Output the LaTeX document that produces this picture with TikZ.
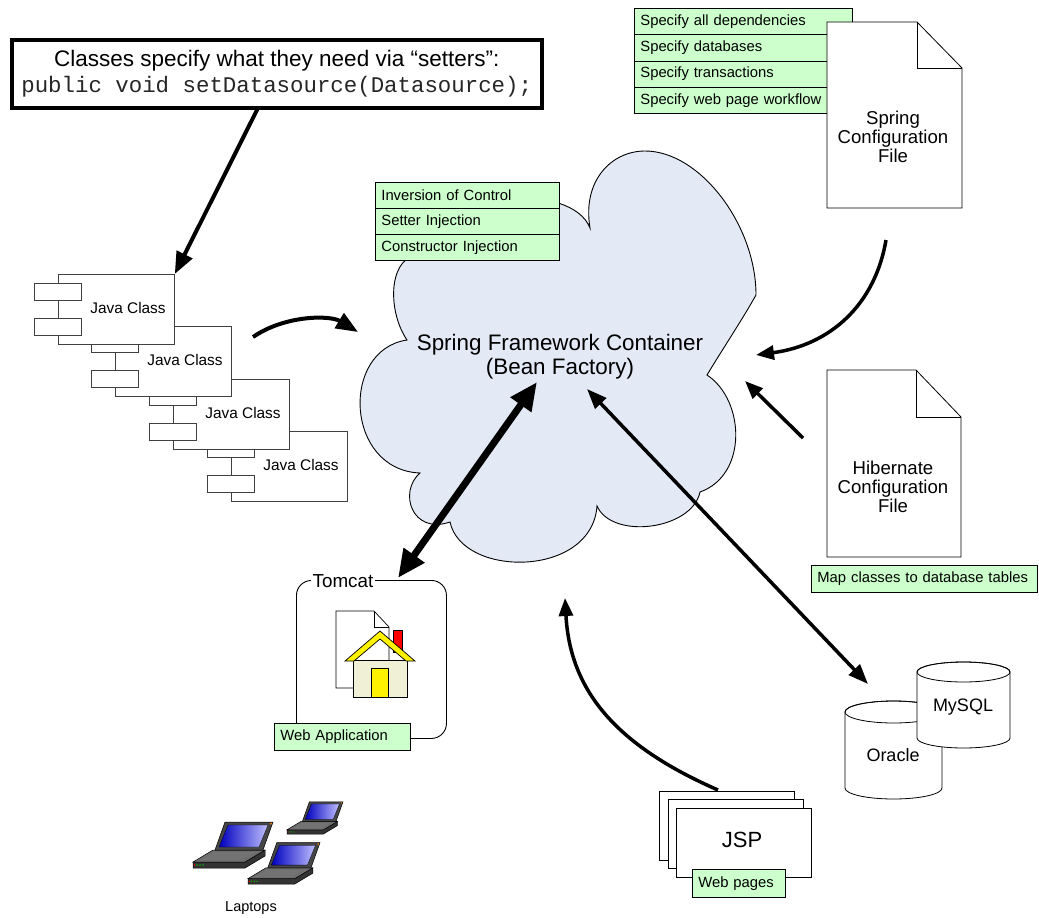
\documentclass[tikz,border=0pt]{standalone}
\usepackage{fontspec}
\setmainfont{Liberation Sans}
\setmonofont{Liberation Mono}
\usetikzlibrary{arrows.meta,calc}

\definecolor{notegreen}{RGB}{204,255,204}
\definecolor{cloudblue}{RGB}{227,234,246}
\definecolor{housewall}{RGB}{240,240,214}
\definecolor{lidgray}{RGB}{70,70,70}
\definecolor{basegray}{RGB}{110,110,110}

\newcommand{\fsz}[1]{\fontsize{#1}{1.2\dimexpr#1pt\relax}\selectfont}

\tikzset{
  note/.style={draw=black, line width=0.8, fill=notegreen, anchor=north west,
    minimum height=26.25, text width=#1, align=left, inner xsep=6, inner ysep=0,
    font=\fsz{14.8}},
  classbox/.style={draw=black!75, line width=0.8, fill=white, anchor=north west,
    minimum width=116, minimum height=70, inner sep=0},
  portbox/.style={draw=black!75, line width=0.8, fill=white, anchor=north west,
    minimum width=47, minimum height=17, inner sep=0},
  pagebox/.style={draw=black, line width=0.8, fill=white, anchor=north west,
    minimum width=135, minimum height=69, inner sep=0},
  bigarrow/.style={line width=4, -{Triangle[length=22,width=17]}},
  midarrow/.style={line width=3.5, -{Triangle[length=18,width=14]}},
  twoway/.style={line width=3.5, {Triangle[length=20,width=15]}-{Triangle[length=20,width=15]}},
  heavytwoway/.style={line width=7, {Triangle[length=28,width=24]}-{Triangle[length=28,width=24]}},
  laptop/.pic={
    % base: front face, side face, top surface
    \filldraw[fill=black!80, draw=black, line width=0.5] (0,0) -- (52,0) -- (72,-12) -- (72,-18) -- (52,-6) -- (0,-6) -- cycle;
    \filldraw[fill=basegray, draw=black, line width=0.5] (0,-6) -- (52,-6) -- (72,-18) -- (20,-18) -- cycle;
    \fill[black!55] (8,-8) -- (48,-8) -- (62,-16) -- (22,-16) -- cycle;
    \fill[green!70!black] (4,-3) circle[radius=0.9] (7,-3) circle[radius=0.9] (10,-3) circle[radius=0.9];
    \fill[red] (1.5,-3) circle[radius=0.8];
    % lid and screen
    \filldraw[fill=lidgray, draw=black, line width=0.5] (22,-18) -- (70,-18) -- (80,-46) -- (32,-46) -- cycle;
    \shade[left color=blue!75!black, right color=blue!25, draw=black, line width=0.3]
      (26,-21) -- (66,-21) -- (75,-43) -- (35,-43) -- cycle;
    \fill[orange] (78,-44.5) circle[radius=1];
  }
}

\begin{document}
\begin{tikzpicture}[x=1pt,y=-1pt]
\useasboundingbox[fill=white] (0,0) rectangle (1039,918);

% ---------------- container cloud ----------------
\path[draw=black, line width=0.9, fill=cloudblue]
  (590,228) .. controls (582,180) and (612,151) .. (645,151)
  .. controls (700,151) and (756,225) .. (756,295)
  .. controls (742,320) and (722,350) .. (707,375)
  .. controls (745,400) and (748,475) .. (700,492)
  .. controls (692,530) and (612,540) .. (597,506)
  .. controls (592,578) and (462,578) .. (450,522)
  .. controls (412,535) and (398,492) .. (420,473)
  .. controls (345,470) and (340,350) .. (407,340)
  .. controls (388,312) and (388,262) .. (415,255)
  .. controls (445,188) and (572,182) .. (590,228) -- cycle;
\node[align=center, font=\fsz{22.4}] (container) at (560,357)
  {Spring Framework Container\\[-3pt](Bean Factory)};

% concepts note on the container
\node[note=172] (ioc) at (375,182) {Inversion of Control};
\node[note=172] (setinj) at (375,208) {Setter Injection};
\node[note=172] (ctorinj) at (375,234) {Constructor Injection};

% ---------------- setter explanation ----------------
\node[draw=black, line width=3.5, anchor=north west, minimum width=530, minimum height=68,
      align=center, inner sep=0, font=\fsz{22.5}] (setters) at (10,38)
  {Classes specify what they need via “setters”:\\[-0.5pt]
   {\fontsize{22.4}{26}\selectfont\ttfamily\color{black!85}public void setDatasource(Datasource);}};

% ---------------- java classes ----------------
\foreach \i/\x/\y in {4/231/431, 3/173/379, 2/115/326, 1/58/274}{
  \node[classbox] (jc\i) at (\x,\y) {};
  \node[portbox] (jc\i a) at (\x-24,\y+9) {};
  \node[portbox] (jc\i b) at (\x-24,\y+44) {};
  \node[font=\fsz{15.4}] (jc\i t) at (\x+70,\y+34) {Java Class};
}

% ---------------- spring configuration file ----------------
\node[note=206] (dep) at (634,8) {Specify all dependencies};
\node[note=206] (dbs) at (634,34.25) {Specify databases};
\node[note=206] (trx) at (634,60.5) {Specify transactions};
\node[note=206] (flow) at (634,86.75) {Specify web page workflow};
\filldraw[fill=white, draw=black, line width=0.8]
  (827,22) -- (917,22) -- (962,68) -- (962,208) -- (827,208) -- cycle;
\draw[line width=0.8] (917,22) -- (917,68) -- (962,68);
\node[align=center, font=\fsz{18.6}, inner sep=0] (springcfg) at (893,137)
  {Spring\\[-3pt]Configuration\\[-3pt]File};

% ---------------- hibernate configuration file ----------------
\filldraw[fill=white, draw=black, line width=0.8]
  (827,370) -- (916,370) -- (961,417) -- (961,557) -- (827,557) -- cycle;
\draw[line width=0.8] (916,370) -- (916,417) -- (961,417);
\node[align=center, font=\fsz{18.6}, inner sep=0] (hibcfg) at (893,487)
  {Hibernate\\[-3pt]Configuration\\[-3pt]File};
\node[note=214, minimum height=27] (mapping) at (811,565) {Map classes to database tables};

% ---------------- databases ----------------
\filldraw[fill=white, draw=black, line width=0.8]
  (845,712) -- (845,788) arc[start angle=180, end angle=0, x radius=48.5, y radius=11]
  -- (942,712) arc[start angle=0, end angle=-180, x radius=48.5, y radius=11] -- cycle;
\draw[line width=0.8] (893.5,712) ellipse[x radius=48.5, y radius=11];
\node[font=\fsz{18}] (oracle) at (893,755) {Oracle};
\filldraw[fill=white, draw=black, line width=0.8]
  (917,672) -- (917,738) arc[start angle=180, end angle=0, x radius=46.5, y radius=10]
  -- (1010,672) arc[start angle=0, end angle=-180, x radius=46.5, y radius=10] -- cycle;
\draw[line width=0.8] (963.5,672) ellipse[x radius=46.5, y radius=10];
\node[font=\fsz{18}] (mysql) at (963,707) {MySQL};

% ---------------- tomcat ----------------
\node[draw=black, line width=0.9, rounded corners=15, anchor=north west,
      minimum width=150, minimum height=158, inner sep=0] (tomcat) at (296,580) {};
\node[fill=white, inner sep=1.5, font=\fsz{18.8}] (tomcatlbl) at (343,581) {Tomcat};
% web application icon
\filldraw[fill=white, draw=black, line width=0.7]
  (336,611) -- (374,611) -- (389,627) -- (389,688) -- (336,688) -- cycle;
\draw[line width=0.7] (374,611) -- (374,627) -- (389,627);
\filldraw[fill=red, draw=black, line width=0.6] (393,630) rectangle (402,652);
\filldraw[fill=housewall, draw=black, line width=0.7] (353,660) rectangle (407,697);
\filldraw[fill=yellow, draw=black, line width=0.7]
  (345,661) -- (380,631) -- (415,661) -- (406,661) -- (380,639) -- (354,661) -- cycle;
\filldraw[fill=yellow, draw=black, line width=0.7] (371,668) rectangle (388,697);
\node[note=124, minimum height=27] (webapp) at (274,723) {Web Application};

% ---------------- laptops ----------------
\pic at (193,868) {laptop};
\pic[scale=0.7] at (287,834) {laptop};
\pic[scale=0.9] at (248,884) {laptop};
\node[font=\fsz{14.5}] (laptops) at (251,908) {Laptops};

% ---------------- jsp pages ----------------
\node[pagebox] (jspA) at (659,791) {};
\node[pagebox] (jspB) at (668,799) {};
\node[pagebox] (jspC) at (676,808) {};
\node[font=\fsz{22}] (jsp) at (742,840) {JSP};
\node[note=81, minimum height=28] (webpages) at (692,869) {Web pages};

% ---------------- connectors ----------------
\coordinate (setterfoot) at (258,108);
\draw[bigarrow] (setterfoot) -- (jc1.north east);

\coordinate (classesout) at (253,337);
\coordinate (containerW) at (358,332);
\draw[bigarrow] (classesout) .. controls (285,315) and (330,315) .. (containerW);

\coordinate (springout) at (886,240);
\coordinate (containerE) at (756,355);
\draw[midarrow] (springout) .. controls (875,305) and (830,345) .. (containerE);

\coordinate (hibout) at (803,438);
\coordinate (containerE2) at (745,381);
\draw[midarrow] (hibout) -- (containerE2);

\coordinate (tomcattop) at (398,578);
\coordinate (containerSW) at (537,382);
\draw[heavytwoway] (tomcattop) -- (containerSW);

\coordinate (containerSE) at (587,389);
\coordinate (dbtop) at (868,684);
\draw[twoway] (containerSE) -- (dbtop);

\coordinate (jspout) at (718,790);
\coordinate (containerS) at (565,598);
\draw[midarrow] (jspout) .. controls (615,745) and (570,690) .. (containerS);

\end{tikzpicture}
\end{document}
